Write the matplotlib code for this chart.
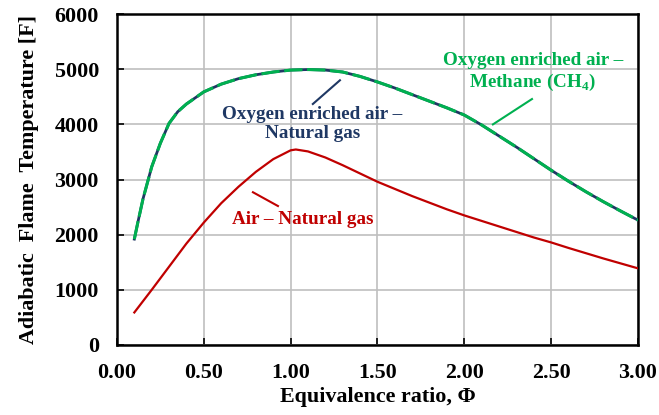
import matplotlib.pyplot as plt
import numpy as np

# equivalence ratio and adiabatic flame temperature [F]
phi_o2 = [0.10, 0.12, 0.15, 0.20, 0.25, 0.30, 0.35, 0.40, 0.50, 0.60, 0.70, 0.80, 0.90,
          1.00, 1.10, 1.20, 1.30, 1.40, 1.50, 1.60, 1.70, 1.80, 1.90, 2.00, 2.10,
          2.20, 2.30, 2.40, 2.50, 2.60, 2.70, 2.80, 2.90, 3.00]
t_o2_ng = [1920, 2220, 2650, 3230, 3660, 4020, 4230, 4370, 4590, 4730, 4830, 4900, 4950,
           4985, 4995, 4985, 4950, 4870, 4770, 4660, 4540, 4420, 4300, 4170, 3990,
           3790, 3590, 3380, 3170, 2970, 2780, 2600, 2430, 2265]
t_o2_ch4 = t_o2_ng

phi_air = [0.10, 0.20, 0.30, 0.40, 0.50, 0.60, 0.70, 0.80, 0.90, 1.00, 1.03, 1.10, 1.20,
           1.30, 1.40, 1.50, 1.60, 1.70, 1.80, 1.90, 2.00, 2.20, 2.40, 2.50, 2.60,
           2.80, 3.00]
t_air_ng = [590, 1000, 1420, 1840, 2220, 2570, 2870, 3140, 3370, 3530, 3545, 3510, 3400,
            3260, 3110, 2960, 2830, 2700, 2580, 2460, 2350, 2150, 1950, 1860, 1760,
            1570, 1390]

plt.rcParams['font.family'] = ['Liberation Serif', 'DejaVu Serif']
plt.rcParams['font.weight'] = 'bold'
plt.rcParams['mathtext.fontset'] = 'custom'
plt.rcParams['mathtext.rm'] = 'Liberation Serif:bold'
plt.rcParams['mathtext.bf'] = 'Liberation Serif:bold'

fig = plt.figure(figsize=(6.59, 4.15), dpi=100)
ax = fig.add_axes([0.1775, 0.1687, 0.7905, 0.7973])

red = '#C00000'
navy = '#1F3864'
green = '#00B050'

ax.plot(phi_air, t_air_ng, color=red, linewidth=1.6, zorder=3)
ax.plot(phi_o2, t_o2_ng, color=navy, linewidth=2.0, zorder=3)
ax.plot(phi_o2, t_o2_ch4, color=green, linewidth=2.2, dashes=(6, 1.5), zorder=4)

ax.set_xlim(0, 3.0)
ax.set_ylim(0, 6000)
ax.set_xticks(np.arange(0, 3.01, 0.5))
ax.set_xticklabels([f'{v:.2f}' for v in np.arange(0, 3.01, 0.5)])
ax.set_yticks(np.arange(0, 6001, 1000))
ax.grid(True, color='#BFBFBF', linewidth=1.2)
ax.set_axisbelow(True)
for s in ax.spines.values():
    s.set_linewidth(1.8)
ax.tick_params(axis='x', direction='in', length=5, width=1.2, labelsize=15.8, pad=13)
ax.tick_params(axis='y', direction='in', length=5, width=1.2, labelsize=15.8, pad=13)

ax.set_xlabel('Equivalence ratio, Φ', fontsize=15.8, fontweight='bold', labelpad=3)
ax.set_ylabel('Adiabatic  Flame  Temperature [F]', fontsize=15.8, fontweight='bold', labelpad=11)

# curve labels with pointer lines
ax.text(1.125, 4010, 'Oxygen enriched air –\nNatural gas', color=navy, fontsize=13.8,
        fontweight='bold', ha='center', va='center', linespacing=1.2)
ax.plot([1.128, 1.284], [4370, 4800], color=navy, linewidth=1.5)

ax.text(2.395, 4945, 'Oxygen enriched air –\nMethane (CH$_4$)', color=green, fontsize=13.8,
        fontweight='bold', ha='center', va='center', linespacing=1.2)
ax.plot([2.165, 2.39], [4000, 4460], color=green, linewidth=1.5)

ax.text(1.07, 2280, 'Air – Natural gas', color=red, fontsize=13.8,
        fontweight='bold', ha='center', va='center')
ax.plot([0.783, 0.927], [2770, 2520], color=red, linewidth=1.5)

fig.savefig('out.png', dpi=100)
